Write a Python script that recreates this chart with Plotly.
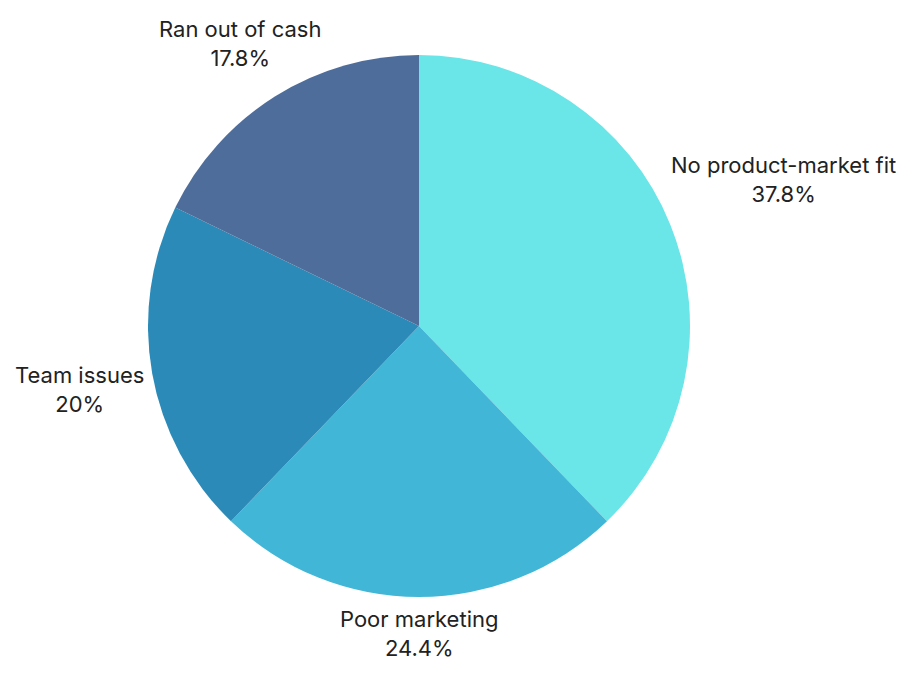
import plotly.graph_objects as go

labels = ["No product-market fit", "Poor marketing", "Team issues", "Ran out of cash"]
values = [37.8, 24.4, 20, 17.8]
pct_text = ["37.8%", "24.4%", "20%", "17.8%"]
colors = ["#6AE5E8", "#42B6D6", "#2B8AB8", "#4F6D9A"]

# label centre positions in page pixels (x, y from top)
label_px = [(783, 179), (419, 633), (79, 389), (240, 43)]

W, H = 914, 678
OFF = 8  # page body margin
CX, CY, R = 419, 326, 271

def px_to_paper(x, y):
    return (x - OFF) / W, 1 - (y - OFF) / H

fig = go.Figure(go.Pie(
    labels=labels,
    values=values,
    text=pct_text,
    sort=False,
    direction="clockwise",
    rotation=0,
    marker=dict(colors=colors, line=dict(width=0)),
    textinfo="none",
    hoverinfo="label+text",
    showlegend=False,
    domain=dict(x=[(CX - OFF - R) / W, (CX - OFF + R) / W],
                y=[1 - (CY - OFF + R) / H, 1 - (CY - OFF - R) / H]),
))

for lab, pt, (lx, ly) in zip(labels, pct_text, label_px):
    ax, ay = px_to_paper(lx, ly)
    fig.add_annotation(
        x=ax, y=ay, xref="paper", yref="paper",
        text=f"{lab}<br>{pt}", showarrow=False,
        xanchor="center", yanchor="middle", align="center",
        font=dict(family="Inter", size=22, color="#222222"),
    )

fig.update_layout(
    width=W, height=H,
    margin=dict(l=0, r=0, t=0, b=0),
    paper_bgcolor="white",
    plot_bgcolor="white",
)
fig.write_html("out.html")
